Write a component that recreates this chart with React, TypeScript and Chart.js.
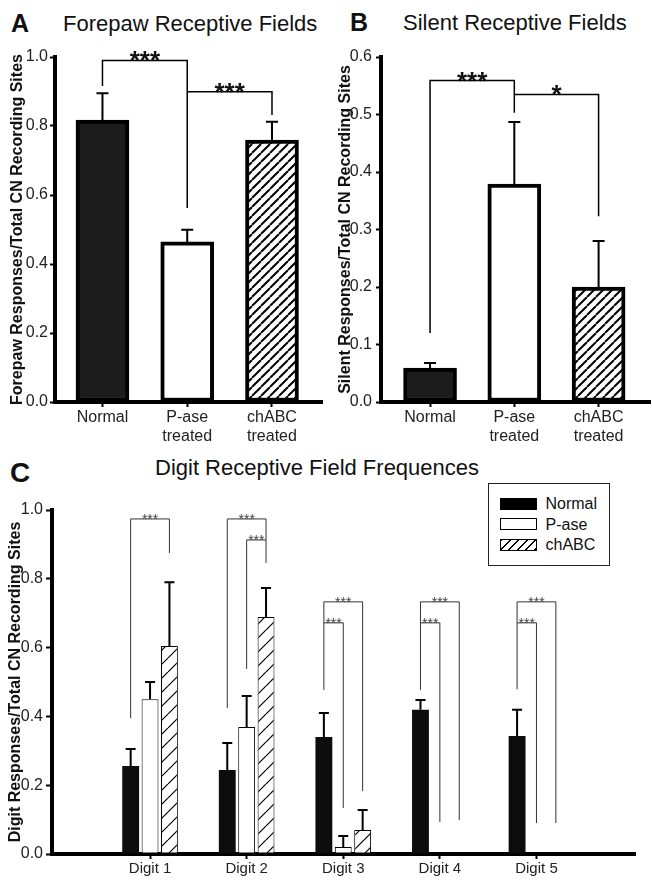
import React, { useEffect, useRef } from 'react';
import { Chart, registerables } from 'chart.js';

Chart.register(...registerables);

const FONT = '"Liberation Sans", Arial, Helvetica, sans-serif';

// ---------- Panel A / B data ----------
const groupLabels: string[][] = [['Normal'], ['P-ase', 'treated'], ['chABC', 'treated']];
const forepawValues = [0.817, 0.464, 0.759];
const forepawErrors = [0.895, 0.499, 0.812];
const silentValues = [0.059, 0.379, 0.2];
const silentErrors = [0.068, 0.487, 0.28];

// brackets: [datasetIndex, dataIndex] endpoints, top value, leg end values, label
const forepawBrackets = [
  { from: [0, 0], to: [0, 1], top: 0.99, fromEnd: 0.916, toEnd: 0.562, label: '***' },
  { from: [0, 1], to: [0, 2], top: 0.899, fromEnd: 0.899, toEnd: 0.832, label: '***' },
];
const silentBrackets = [
  { from: [0, 0], to: [0, 1], top: 0.559, fromEnd: 0.12, toEnd: 0.503, label: '***' },
  { from: [0, 1], to: [0, 2], top: 0.535, fromEnd: 0.535, toEnd: 0.323, label: '*' },
];

// ---------- Panel C data ----------
const digitLabels = ['Digit 1', 'Digit 2', 'Digit 3', 'Digit 4', 'Digit 5'];
const seriesNames = ['Normal', 'P-ase', 'chABC'];
const normalDigit = [0.256, 0.244, 0.34, 0.419, 0.343];
const normalDigitErr = [0.305, 0.323, 0.41, 0.448, 0.419];
const paseDigit = [0.45, 0.369, 0.02, 0, 0];
const paseDigitErr: (number | null)[] = [0.5, 0.459, 0.052, null, null];
const chabcDigit = [0.605, 0.689, 0.07, 0, 0];
const chabcDigitErr: (number | null)[] = [0.79, 0.773, 0.128, null, null];

const digitBrackets = [
  { from: [0, 0], to: [2, 0], top: 0.974, fromEnd: 0.395, toEnd: 0.875, label: '***' },
  { from: [0, 1], to: [2, 1], top: 0.974, fromEnd: 0.424, toEnd: 0.846, label: '***' },
  { from: [1, 1], to: [2, 1], top: 0.913, fromEnd: 0.538, toEnd: 0.913, label: '***' },
  { from: [0, 2], to: [2, 2], top: 0.733, fromEnd: 0.477, toEnd: 0.183, label: '***' },
  { from: [0, 2], to: [1, 2], top: 0.672, fromEnd: 0.672, toEnd: 0.134, label: '***' },
  { from: [0, 3], to: [2, 3], top: 0.733, fromEnd: 0.477, toEnd: 0.099, label: '***' },
  { from: [0, 3], to: [1, 3], top: 0.672, fromEnd: 0.672, toEnd: 0.093, label: '***' },
  { from: [0, 4], to: [2, 4], top: 0.733, fromEnd: 0.479, toEnd: 0.09, label: '***' },
  { from: [0, 4], to: [1, 4], top: 0.672, fromEnd: 0.672, toEnd: 0.09, label: '***' },
];

type Bracket = { from: number[]; to: number[]; top: number; fromEnd: number; toEnd: number; label: string };

function makeHatch(size: number, lw: number) {
  const c = document.createElement('canvas');
  c.width = size;
  c.height = size;
  const g = c.getContext('2d')!;
  g.fillStyle = '#fff';
  g.fillRect(0, 0, size, size);
  g.strokeStyle = '#000';
  g.lineWidth = lw;
  g.beginPath();
  for (const k of [-1, 0, 1]) {
    g.moveTo(k * size, size);
    g.lineTo(k * size + size, 0);
  }
  g.stroke();
  return g.createPattern(c, 'repeat')!;
}

function errorBarPlugin(errors: (number | null)[][], lw: number, cap: number) {
  return {
    id: 'errbars',
    afterDatasetsDraw(chart: any) {
      const ctx = chart.ctx;
      const y = chart.scales.y;
      ctx.save();
      ctx.strokeStyle = '#000';
      ctx.lineWidth = lw;
      errors.forEach((errs, di) => {
        const meta = chart.getDatasetMeta(di);
        meta.data.forEach((el: any, i: number) => {
          const e = errs[i];
          if (e == null) return;
          const ye = y.getPixelForValue(e);
          ctx.beginPath();
          ctx.moveTo(el.x, el.y);
          ctx.lineTo(el.x, ye);
          ctx.moveTo(el.x - cap, ye);
          ctx.lineTo(el.x + cap, ye);
          ctx.stroke();
        });
      });
      ctx.restore();
    },
  };
}

function bracketPlugin(brackets: Bracket[], st: { color: string; width: number; font: string; textColor: string; textOffset: number }) {
  return {
    id: 'brackets',
    afterDatasetsDraw(chart: any) {
      const ctx = chart.ctx;
      const y = chart.scales.y;
      ctx.save();
      for (const b of brackets) {
        const x1 = chart.getDatasetMeta(b.from[0]).data[b.from[1]].x;
        const x2 = chart.getDatasetMeta(b.to[0]).data[b.to[1]].x;
        const yt = y.getPixelForValue(b.top);
        const y1 = y.getPixelForValue(b.fromEnd);
        const y2 = y.getPixelForValue(b.toEnd);
        ctx.strokeStyle = st.color;
        ctx.lineWidth = st.width;
        ctx.beginPath();
        ctx.moveTo(x1, y1);
        ctx.lineTo(x1, yt);
        ctx.lineTo(x2, yt);
        ctx.lineTo(x2, y2);
        ctx.stroke();
        ctx.fillStyle = st.textColor;
        ctx.font = st.font;
        ctx.textAlign = 'center';
        ctx.textBaseline = 'alphabetic';
        ctx.fillText(b.label, (x1 + x2) / 2, yt + st.textOffset);
      }
      ctx.restore();
    },
  };
}

function simpleConfig(o: {
  values: number[]; errors: number[]; brackets: Bracket[]; yMax: number; yStep: number; yTitle: string;
  xMin: number; xMax: number; padRight: number; titlePad: number; tickPad: number;
}) {
  const hatch = makeHatch(9, 2);
  return {
    type: 'bar',
    data: {
      datasets: [
        {
          label: o.yTitle,
          data: o.values.map((v, i) => ({ x: i, y: v })),
          backgroundColor: ['#1c1c1c', '#ffffff', hatch],
          borderColor: '#000',
          borderWidth: 4,
          borderSkipped: false,
          barThickness: 53,
        },
      ],
    },
    options: {
      responsive: false,
      animation: false,
      events: [],
      layout: { padding: { left: 0, top: 57, right: o.padRight, bottom: 0 } },
      plugins: { legend: { display: false }, tooltip: { enabled: false }, title: { display: false } },
      scales: {
        x: {
          type: 'linear',
          min: o.xMin,
          max: o.xMax,
          offset: false,
          afterBuildTicks: (s: any) => {
            s.ticks = groupLabels.map((_, i) => ({ value: i }));
          },
          afterFit: (s: any) => {
            s.height = 48;
          },
          ticks: {
            callback: (v: number) => groupLabels[v] ?? '',
            font: { family: FONT, size: 16 },
            color: '#222',
            padding: 1,
            maxRotation: 0,
            autoSkip: false,
          },
          grid: { display: true, offset: false, drawOnChartArea: false, drawTicks: true, tickLength: 5, tickWidth: 2, tickColor: '#000' },
          border: { display: true, color: '#000', width: 4 },
        },
        y: {
          min: 0,
          max: o.yMax,
          afterFit: (s: any) => {
            s.width = 55;
          },
          ticks: {
            stepSize: o.yStep,
            callback: (v: number) => v.toFixed(1),
            font: { family: FONT, size: 16 },
            color: '#222',
            padding: o.tickPad,
          },
          grid: { display: true, drawOnChartArea: false, drawTicks: true, tickLength: 5, tickWidth: 2, tickColor: '#000' },
          border: { display: true, color: '#000', width: 4 },
          title: {
            display: true,
            text: o.yTitle,
            font: { family: FONT, size: 16, weight: 'bold' },
            color: '#111',
            padding: { top: o.titlePad, bottom: 0 },
          },
        },
      },
    },
    plugins: [
      errorBarPlugin([o.errors], 2, 6),
      bracketPlugin(o.brackets, { color: '#000', width: 1.5, font: `bold 26px ${FONT}`, textColor: '#111', textOffset: 9 }),
    ],
  };
}

function configA() {
  return simpleConfig({
    values: forepawValues, errors: forepawErrors, brackets: forepawBrackets, yMax: 1, yStep: 0.2,
    yTitle: 'Forepaw Responses/Total CN Recording Sites', xMin: -0.56, xMax: 2.59, padRight: 4, titlePad: 7.5, tickPad: 2,
  });
}

function configB() {
  return simpleConfig({
    values: silentValues, errors: silentErrors, brackets: silentBrackets, yMax: 0.6, yStep: 0.1,
    yTitle: 'Silent Responses/Total CN Recording Sites', xMin: -0.582, xMax: 2.61, padRight: 2, titlePad: 9.5, tickPad: 4,
  });
}

function configC() {
  const hatch = makeHatch(14, 1.2);
  const mk = (vals: number[]) => vals.map((v, i) => ({ x: i + 1, y: v }));
  return {
    type: 'bar',
    data: {
      datasets: [
        { label: seriesNames[0], data: mk(normalDigit), backgroundColor: '#0d0d0d', borderWidth: 0 },
        { label: seriesNames[1], data: mk(paseDigit), backgroundColor: '#ffffff', borderColor: '#000', borderWidth: 1, borderSkipped: false },
        { label: seriesNames[2], data: mk(chabcDigit), backgroundColor: hatch, borderColor: '#000', borderWidth: 1, borderSkipped: false },
      ],
    },
    options: {
      responsive: false,
      animation: false,
      events: [],
      datasets: { bar: { categoryPercentage: 0.602, barPercentage: 0.87 } },
      layout: { padding: { left: 0, top: 20, right: 17, bottom: 0 } },
      plugins: { legend: { display: false }, tooltip: { enabled: false }, title: { display: false } },
      scales: {
        x: {
          type: 'linear',
          min: -0.015,
          max: 6.02,
          offset: false,
          afterBuildTicks: (s: any) => {
            s.ticks = digitLabels.map((_, i) => ({ value: i + 1 }));
          },
          afterFit: (s: any) => {
            s.height = 28;
          },
          ticks: {
            callback: (v: number) => digitLabels[v - 1] ?? '',
            font: { family: FONT, size: 15 },
            color: '#222',
            padding: 1,
            maxRotation: 0,
            autoSkip: false,
          },
          grid: { display: true, offset: false, drawOnChartArea: false, drawTicks: true, tickLength: 5, tickWidth: 2, tickColor: '#000' },
          border: { display: true, color: '#000', width: 4 },
        },
        y: {
          min: 0,
          max: 1,
          afterFit: (s: any) => {
            s.width = 52;
          },
          ticks: {
            stepSize: 0.2,
            callback: (v: number) => v.toFixed(1),
            font: { family: FONT, size: 16 },
            color: '#222',
            padding: 3,
          },
          grid: { display: true, drawOnChartArea: false, drawTicks: true, tickLength: 6, tickWidth: 2, tickColor: '#000' },
          border: { display: true, color: '#000', width: 4 },
          title: {
            display: true,
            text: 'Digit Responses/Total CN Recording Sites',
            font: { family: FONT, size: 16, weight: 'bold' },
            color: '#111',
            padding: { top: 5.5, bottom: 0 },
          },
        },
      },
    },
    plugins: [
      errorBarPlugin([normalDigitErr, paseDigitErr, chabcDigitErr], 2, 5),
      bracketPlugin(digitBrackets, { color: '#333', width: 1, font: `14px ${FONT}`, textColor: '#444', textOffset: 5 }),
    ],
  };
}

function ChartCanvas({ left, top, width, height, build }: { left: number; top: number; width: number; height: number; build: () => any }) {
  const ref = useRef<HTMLCanvasElement>(null);
  useEffect(() => {
    const chart = new Chart(ref.current as HTMLCanvasElement, build());
    return () => chart.destroy();
  }, []);
  return (
    <canvas
      ref={ref}
      width={width}
      height={height}
      style={{ position: 'absolute', left, top, width, height, display: 'block' }}
    />
  );
}

function Txt({ x, base, size, bold, children }: { x: number; base: number; size: number; bold?: boolean; children: React.ReactNode }) {
  return (
    <div
      style={{
        position: 'absolute',
        left: x,
        top: base - 0.8465 * size,
        fontSize: size,
        lineHeight: 1,
        fontWeight: bold ? 'bold' : 'normal',
        fontFamily: FONT,
        color: '#111',
        whiteSpace: 'nowrap',
      }}
    >
      {children}
    </div>
  );
}

const swatchStyles: React.CSSProperties[] = [
  { background: '#000', border: '1px solid #000' },
  { background: '#fff', border: '1px solid #000' },
  { background: 'repeating-linear-gradient(135deg, #000 0 1.3px, #fff 1.3px 6px)', border: '1px solid #000' },
];

export default function App() {
  return (
    <div style={{ position: 'absolute', left: 0, top: 0, width: 652, height: 882, background: '#fff', overflow: 'hidden' }}>
      <Txt x={11} base={32} size={25} bold>A</Txt>
      <Txt x={63} base={31.5} size={22}>Forepaw Receptive Fields</Txt>
      <Txt x={350} base={31.5} size={25} bold>B</Txt>
      <Txt x={403} base={31} size={22}>Silent Receptive Fields</Txt>
      <Txt x={10} base={483} size={28} bold>C</Txt>
      <Txt x={155} base={476} size={22}>Digit Receptive Field Frequences</Txt>

      <ChartCanvas left={0} top={0} width={326} height={450} build={configA} />
      <ChartCanvas left={326} top={0} width={326} height={450} build={configB} />
      <ChartCanvas left={0} top={490} width={652} height={392} build={configC} />

      <div
        style={{
          position: 'absolute',
          left: 488,
          top: 483,
          width: 122,
          height: 83,
          boxSizing: 'border-box',
          border: '1.5px solid #222',
          background: '#fff',
        }}
      >
        {seriesNames.map((name, i) => (
          <React.Fragment key={name}>
            <div
              style={{
                position: 'absolute',
                left: 10.5,
                top: 13.5 + i * 20.5,
                width: 37,
                height: 12,
                boxSizing: 'border-box',
                ...swatchStyles[i],
              }}
            />
            <div
              style={{
                position: 'absolute',
                left: 56.5,
                top: 11 + i * 20.5,
                fontFamily: FONT,
                fontSize: 16,
                lineHeight: '17px',
                color: '#111',
                whiteSpace: 'nowrap',
              }}
            >
              {name}
            </div>
          </React.Fragment>
        ))}
      </div>
    </div>
  );
}
